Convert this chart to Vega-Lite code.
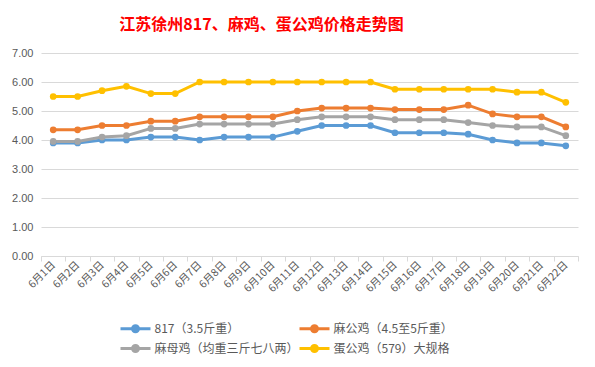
{
  "$schema": "https://vega.github.io/schema/vega-lite/v6.json",
  "autosize": "none",
  "width": 537,
  "height": 203,
  "padding": {"left": 41, "top": 53, "right": 17, "bottom": 111},
  "background": "#ffffff",
  "title": {
    "text": "江苏徐州817、麻鸡、蛋公鸡价格走势图",
    "color": "#ff0000",
    "font": "Noto Sans CJK SC",
    "fontSize": 16,
    "fontWeight": "bold",
    "anchor": "middle",
    "dx": -48,
    "offset": 14
  },
  "datasets": {
    "prices": [
      {"date": "6月1日", "series": "817（3.5斤重）", "price": 3.9},
      {"date": "6月2日", "series": "817（3.5斤重）", "price": 3.9},
      {"date": "6月3日", "series": "817（3.5斤重）", "price": 4.0},
      {"date": "6月4日", "series": "817（3.5斤重）", "price": 4.0},
      {"date": "6月5日", "series": "817（3.5斤重）", "price": 4.1},
      {"date": "6月6日", "series": "817（3.5斤重）", "price": 4.1},
      {"date": "6月7日", "series": "817（3.5斤重）", "price": 4.0},
      {"date": "6月8日", "series": "817（3.5斤重）", "price": 4.1},
      {"date": "6月9日", "series": "817（3.5斤重）", "price": 4.1},
      {"date": "6月10日", "series": "817（3.5斤重）", "price": 4.1},
      {"date": "6月11日", "series": "817（3.5斤重）", "price": 4.3},
      {"date": "6月12日", "series": "817（3.5斤重）", "price": 4.5},
      {"date": "6月13日", "series": "817（3.5斤重）", "price": 4.5},
      {"date": "6月14日", "series": "817（3.5斤重）", "price": 4.5},
      {"date": "6月15日", "series": "817（3.5斤重）", "price": 4.25},
      {"date": "6月16日", "series": "817（3.5斤重）", "price": 4.25},
      {"date": "6月17日", "series": "817（3.5斤重）", "price": 4.25},
      {"date": "6月18日", "series": "817（3.5斤重）", "price": 4.2},
      {"date": "6月19日", "series": "817（3.5斤重）", "price": 4.0},
      {"date": "6月20日", "series": "817（3.5斤重）", "price": 3.9},
      {"date": "6月21日", "series": "817（3.5斤重）", "price": 3.9},
      {"date": "6月22日", "series": "817（3.5斤重）", "price": 3.8},
      {"date": "6月1日", "series": "麻公鸡（4.5至5斤重）", "price": 4.35},
      {"date": "6月2日", "series": "麻公鸡（4.5至5斤重）", "price": 4.35},
      {"date": "6月3日", "series": "麻公鸡（4.5至5斤重）", "price": 4.5},
      {"date": "6月4日", "series": "麻公鸡（4.5至5斤重）", "price": 4.5},
      {"date": "6月5日", "series": "麻公鸡（4.5至5斤重）", "price": 4.65},
      {"date": "6月6日", "series": "麻公鸡（4.5至5斤重）", "price": 4.65},
      {"date": "6月7日", "series": "麻公鸡（4.5至5斤重）", "price": 4.8},
      {"date": "6月8日", "series": "麻公鸡（4.5至5斤重）", "price": 4.8},
      {"date": "6月9日", "series": "麻公鸡（4.5至5斤重）", "price": 4.8},
      {"date": "6月10日", "series": "麻公鸡（4.5至5斤重）", "price": 4.8},
      {"date": "6月11日", "series": "麻公鸡（4.5至5斤重）", "price": 5.0},
      {"date": "6月12日", "series": "麻公鸡（4.5至5斤重）", "price": 5.1},
      {"date": "6月13日", "series": "麻公鸡（4.5至5斤重）", "price": 5.1},
      {"date": "6月14日", "series": "麻公鸡（4.5至5斤重）", "price": 5.1},
      {"date": "6月15日", "series": "麻公鸡（4.5至5斤重）", "price": 5.05},
      {"date": "6月16日", "series": "麻公鸡（4.5至5斤重）", "price": 5.05},
      {"date": "6月17日", "series": "麻公鸡（4.5至5斤重）", "price": 5.05},
      {"date": "6月18日", "series": "麻公鸡（4.5至5斤重）", "price": 5.2},
      {"date": "6月19日", "series": "麻公鸡（4.5至5斤重）", "price": 4.9},
      {"date": "6月20日", "series": "麻公鸡（4.5至5斤重）", "price": 4.8},
      {"date": "6月21日", "series": "麻公鸡（4.5至5斤重）", "price": 4.8},
      {"date": "6月22日", "series": "麻公鸡（4.5至5斤重）", "price": 4.45},
      {"date": "6月1日", "series": "麻母鸡（均重三斤七八两）", "price": 3.95},
      {"date": "6月2日", "series": "麻母鸡（均重三斤七八两）", "price": 3.95},
      {"date": "6月3日", "series": "麻母鸡（均重三斤七八两）", "price": 4.1},
      {"date": "6月4日", "series": "麻母鸡（均重三斤七八两）", "price": 4.15},
      {"date": "6月5日", "series": "麻母鸡（均重三斤七八两）", "price": 4.4},
      {"date": "6月6日", "series": "麻母鸡（均重三斤七八两）", "price": 4.4},
      {"date": "6月7日", "series": "麻母鸡（均重三斤七八两）", "price": 4.55},
      {"date": "6月8日", "series": "麻母鸡（均重三斤七八两）", "price": 4.55},
      {"date": "6月9日", "series": "麻母鸡（均重三斤七八两）", "price": 4.55},
      {"date": "6月10日", "series": "麻母鸡（均重三斤七八两）", "price": 4.55},
      {"date": "6月11日", "series": "麻母鸡（均重三斤七八两）", "price": 4.7},
      {"date": "6月12日", "series": "麻母鸡（均重三斤七八两）", "price": 4.8},
      {"date": "6月13日", "series": "麻母鸡（均重三斤七八两）", "price": 4.8},
      {"date": "6月14日", "series": "麻母鸡（均重三斤七八两）", "price": 4.8},
      {"date": "6月15日", "series": "麻母鸡（均重三斤七八两）", "price": 4.7},
      {"date": "6月16日", "series": "麻母鸡（均重三斤七八两）", "price": 4.7},
      {"date": "6月17日", "series": "麻母鸡（均重三斤七八两）", "price": 4.7},
      {"date": "6月18日", "series": "麻母鸡（均重三斤七八两）", "price": 4.6},
      {"date": "6月19日", "series": "麻母鸡（均重三斤七八两）", "price": 4.5},
      {"date": "6月20日", "series": "麻母鸡（均重三斤七八两）", "price": 4.45},
      {"date": "6月21日", "series": "麻母鸡（均重三斤七八两）", "price": 4.45},
      {"date": "6月22日", "series": "麻母鸡（均重三斤七八两）", "price": 4.15},
      {"date": "6月1日", "series": "蛋公鸡（579）大规格", "price": 5.5},
      {"date": "6月2日", "series": "蛋公鸡（579）大规格", "price": 5.5},
      {"date": "6月3日", "series": "蛋公鸡（579）大规格", "price": 5.7},
      {"date": "6月4日", "series": "蛋公鸡（579）大规格", "price": 5.85},
      {"date": "6月5日", "series": "蛋公鸡（579）大规格", "price": 5.6},
      {"date": "6月6日", "series": "蛋公鸡（579）大规格", "price": 5.6},
      {"date": "6月7日", "series": "蛋公鸡（579）大规格", "price": 6.0},
      {"date": "6月8日", "series": "蛋公鸡（579）大规格", "price": 6.0},
      {"date": "6月9日", "series": "蛋公鸡（579）大规格", "price": 6.0},
      {"date": "6月10日", "series": "蛋公鸡（579）大规格", "price": 6.0},
      {"date": "6月11日", "series": "蛋公鸡（579）大规格", "price": 6.0},
      {"date": "6月12日", "series": "蛋公鸡（579）大规格", "price": 6.0},
      {"date": "6月13日", "series": "蛋公鸡（579）大规格", "price": 6.0},
      {"date": "6月14日", "series": "蛋公鸡（579）大规格", "price": 6.0},
      {"date": "6月15日", "series": "蛋公鸡（579）大规格", "price": 5.75},
      {"date": "6月16日", "series": "蛋公鸡（579）大规格", "price": 5.75},
      {"date": "6月17日", "series": "蛋公鸡（579）大规格", "price": 5.75},
      {"date": "6月18日", "series": "蛋公鸡（579）大规格", "price": 5.75},
      {"date": "6月19日", "series": "蛋公鸡（579）大规格", "price": 5.75},
      {"date": "6月20日", "series": "蛋公鸡（579）大规格", "price": 5.65},
      {"date": "6月21日", "series": "蛋公鸡（579）大规格", "price": 5.65},
      {"date": "6月22日", "series": "蛋公鸡（579）大规格", "price": 5.3}
    ]
  },
  "data": {"name": "prices"},
  "encoding": {
    "x": {
      "field": "date",
      "type": "ordinal",
      "sort": null,
      "scale": {"type": "band", "paddingInner": 0, "paddingOuter": 0},
      "axis": {
        "title": null,
        "tickBand": "extent",
        "domainColor": "#d9d9d9",
        "tickColor": "#d9d9d9",
        "tickSize": 5,
        "grid": false,
        "labelAngle": -45,
        "labelAlign": "right",
        "labelBaseline": "middle",
        "labelPadding": 2,
        "labelFont": "Noto Sans CJK SC",
        "labelFontSize": 10.5,
        "labelColor": "#595959"
      }
    },
    "y": {
      "field": "price",
      "type": "quantitative",
      "scale": {"domain": [0, 7]},
      "axis": {
        "title": null,
        "values": [0, 1, 2, 3, 4, 5, 6, 7],
        "format": ".2f",
        "domain": false,
        "ticks": false,
        "gridColor": "#d9d9d9",
        "labelPadding": 8,
        "labelFont": "Liberation Sans",
        "labelFontSize": 11,
        "labelColor": "#595959"
      }
    },
    "color": {
      "field": "series",
      "type": "nominal",
      "sort": ["817（3.5斤重）", "麻公鸡（4.5至5斤重）", "麻母鸡（均重三斤七八两）", "蛋公鸡（579）大规格"],
      "scale": {
        "domain": ["817（3.5斤重）", "麻公鸡（4.5至5斤重）", "麻母鸡（均重三斤七八两）", "蛋公鸡（579）大规格"],
        "range": ["#5b9bd5", "#ed7d31", "#a5a5a5", "#ffc000"]
      },
      "legend": {
        "title": null,
        "orient": "none",
        "direction": "horizontal",
        "legendX": 84,
        "legendY": 265,
        "columns": 2,
        "columnPadding": -6,
        "rowPadding": -5,
        "symbolType": "M-1.667,0H1.667M-0.333,0A0.333,0.333 0 1,0 0.333,0A0.333,0.333 0 1,0 -0.333,0Z",
        "symbolSize": 324,
        "symbolStrokeWidth": 3,
        "labelOffset": 8.5,
        "labelFont": "Noto Sans CJK SC",
        "labelFontSize": 12,
        "labelColor": "#595959",
        "labelLimit": 300,
        "encode": {
          "symbols": {
            "update": {
              "fill": {"scale": "color", "field": "value"},
              "stroke": {"scale": "color", "field": "value"},
              "fillOpacity": {"value": 1},
              "strokeOpacity": {"value": 1}
            }
          }
        }
      }
    }
  },
  "layer": [
    {"mark": {"type": "line", "strokeWidth": 3}},
    {"mark": {"type": "point", "filled": true, "size": 45, "opacity": 1}}
  ],
  "config": {
    "view": {"stroke": null}
  }
}
